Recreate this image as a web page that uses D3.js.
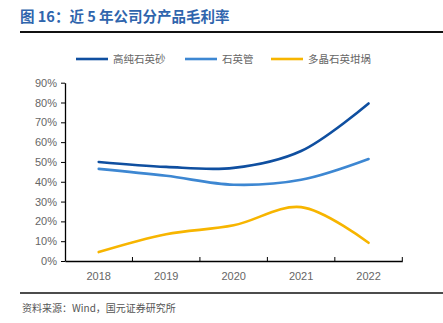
<!DOCTYPE html>
<html><head><meta charset="utf-8">
<script src="https://cdn.jsdelivr.net/npm/d3@7"></script>
<style>body{margin:0;background:#fff;}svg{display:block;}</style>
</head><body>
<svg id="c" width="443" height="323"></svg>
<script>
const years = ["2018","2019","2020","2021","2022"];
const seriesNames = ["高纯石英砂","石英管","多晶石英坩埚"];
const sandValues = [0.50,0.475,0.47,0.555,0.795];
const tubeValues = [0.465,0.43,0.385,0.41,0.515];
const crucibleValues = [0.045,0.135,0.18,0.272,0.092];
const yTicks = [0,0.1,0.2,0.3,0.4,0.5,0.6,0.7,0.8,0.9];
const colors = ["#0f4fa0","#3d87d2","#f7b500"];

const svg = d3.select("#c");
const font = "'Liberation Sans', Arial, sans-serif";
const cjk = "'Noto Sans CJK SC', sans-serif";

// title
svg.append("text").attr("x",20).attr("y",22).attr("fill","#2f65ad")
  .attr("font-family",cjk).attr("font-weight","bold").attr("font-size",14.5)
  .text("图 16：近 5 年公司分产品毛利率");
svg.append("line").attr("x1",20).attr("x2",443).attr("y1",32).attr("y2",32).attr("stroke","#111").attr("stroke-width",2);

const x = d3.scaleBand().domain(years).range([65,402.3]);
const y = d3.scaleLinear().domain([0,0.9]).range([261,82.7]);

// y axis
const ya = svg.append("g").attr("transform","translate(65,0)")
  .call(d3.axisLeft(y).tickValues(yTicks).tickFormat(d3.format(".0%")).tickSize(4).tickSizeOuter(0));
ya.select(".domain").attr("stroke","#000").attr("stroke-width",1.3);
ya.selectAll(".tick line").attr("stroke","#000");
ya.selectAll(".tick text").attr("fill","#666").attr("font-family",font).attr("font-size",11).attr("x",-8);

// x axis
const xa = svg.append("g").attr("transform","translate(0,261)")
  .call(d3.axisBottom(x).tickSize(0));
xa.select(".domain").attr("stroke","#000").attr("stroke-width",1.3);
xa.selectAll(".tick text").attr("fill","#666").attr("font-family",font).attr("font-size",11).attr("dy","1.45em");
// tick marks at band boundaries
const bounds = years.map(d=>x(d)).concat([x(years[years.length-1])+x.bandwidth()]);
svg.append("g").selectAll("line").data(bounds.slice(1)).join("line")
  .attr("x1",d=>d).attr("x2",d=>d).attr("y1",261).attr("y2",257).attr("stroke","#000").attr("stroke-width",1);

const line = d3.line().x((d,i)=>x(years[i])+x.bandwidth()/2).y(d=>y(d)).curve(d3.curveCatmullRom.alpha(0.5));
const all = [sandValues,tubeValues,crucibleValues];
svg.append("g").selectAll("path").data(all).join("path")
  .attr("d",d=>line(d)).attr("fill","none").attr("stroke",(d,i)=>colors[i]).attr("stroke-width",2.6).attr("stroke-linecap","round");

// legend
const legendX = [76,185,271];
const lg = svg.append("g");
seriesNames.forEach((n,i)=>{
  lg.append("line").attr("x1",legendX[i]).attr("x2",legendX[i]+32).attr("y1",59).attr("y2",59)
    .attr("stroke",colors[i]).attr("stroke-width",2.6);
  lg.append("text").attr("x",legendX[i]+37).attr("y",63).attr("fill","#666")
    .attr("font-family",cjk).attr("font-size",10.5).text(n);
});

// footer
svg.append("line").attr("x1",20).attr("x2",443).attr("y1",293).attr("y2",293).attr("stroke","#111").attr("stroke-width",1.5);
svg.append("text").attr("x",22).attr("y",312).attr("fill","#555")
  .attr("font-family",cjk).attr("font-size",10).text("资料来源：Wind，国元证券研究所");
</script>
</body></html>
